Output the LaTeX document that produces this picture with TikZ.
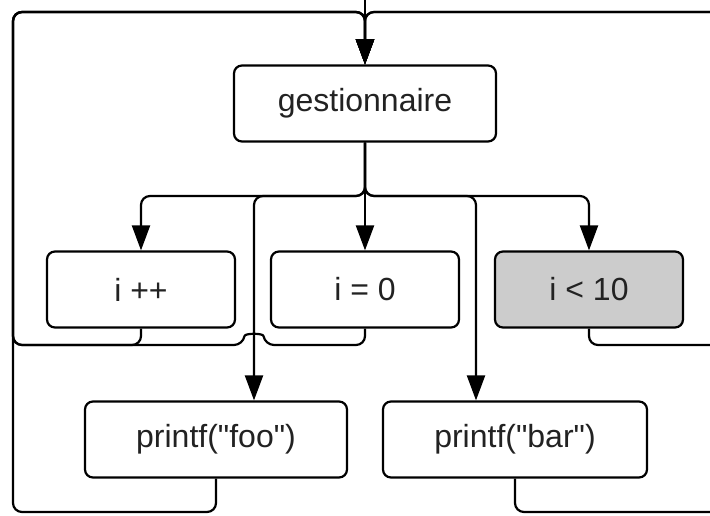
\documentclass[tikz,border=0pt]{standalone}
\usepackage{fontspec}
\setmainfont{Liberation Sans}
\usetikzlibrary{arrows.meta}
\definecolor{boxgray}{HTML}{CCCCCC}
\definecolor{ink}{HTML}{222222}
\begin{document}
\begin{tikzpicture}[x=1pt,y=-1pt,
  box/.style={draw=black, line width=2.2pt, rounded corners=8pt, minimum height=76pt,
    inner sep=0pt, font=\fontsize{32}{38}\selectfont, text=ink},
  flow/.style={line width=2.2pt, rounded corners=9pt, -{Triangle[width=18pt,length=25pt]}},
]
\useasboundingbox (0,0) rectangle (710,516);
\clip (0,0) rectangle (710,516);

% statements
\node[box, minimum width=262pt] (gest) at (365,103.5) {gestionnaire};
\node[box, minimum width=188pt] (ipp) at (141,289.5) {i ++};
\node[box, minimum width=188pt] (izero) at (365,289.5) {i = 0};
\node[box, minimum width=188pt, fill=boxgray] (ilt) at (589,289.5) {i < 10};
\node[box, minimum width=262pt] (foo) at (216,439.5) {printf(\textquotedbl foo\textquotedbl)};
\node[box, minimum width=264pt] (bar) at (515,439.5) {printf(\textquotedbl bar\textquotedbl)};

% routing points
\coordinate (entry) at (365,-20);
\coordinate (fork) at (365,196);
\coordinate (tl) at (13,12);
\coordinate (tr) at (740,12);
\coordinate (ml) at (13,345);
\coordinate (mr) at (740,345);
\coordinate (bl) at (13,512);
\coordinate (br) at (740,512);

% control returning to the dispatcher
\draw[flow] (entry) -- (gest.north);
\draw[flow] (ipp.south) |- (ml) -- (tl) -| (gest.north);
\draw[flow] (izero.south) |- (265,345) .. controls (263,333) and (245,333) .. (243,345)
  -- (ml) -- (tl) -| (gest.north);
\draw[flow] (ilt.south) |- (mr) -- (tr) -| (gest.north);
\draw[flow] (foo.south) |- (bl) -- (tl) -| (gest.north);
\draw[flow] (bar.south) |- (br) -- (tr) -| (gest.north);

% dispatch to each statement
\draw[flow] (gest.south) -- (fork) -| (ipp.north);
\draw[flow] (gest.south) -- (izero.north);
\draw[flow] (gest.south) -- (fork) -| (ilt.north);
\draw[flow] (gest.south) -- (fork) -| ([xshift=38pt]foo.north);
\draw[flow] (gest.south) -- (fork) -| ([xshift=-39pt]bar.north);
\end{tikzpicture}
\end{document}
